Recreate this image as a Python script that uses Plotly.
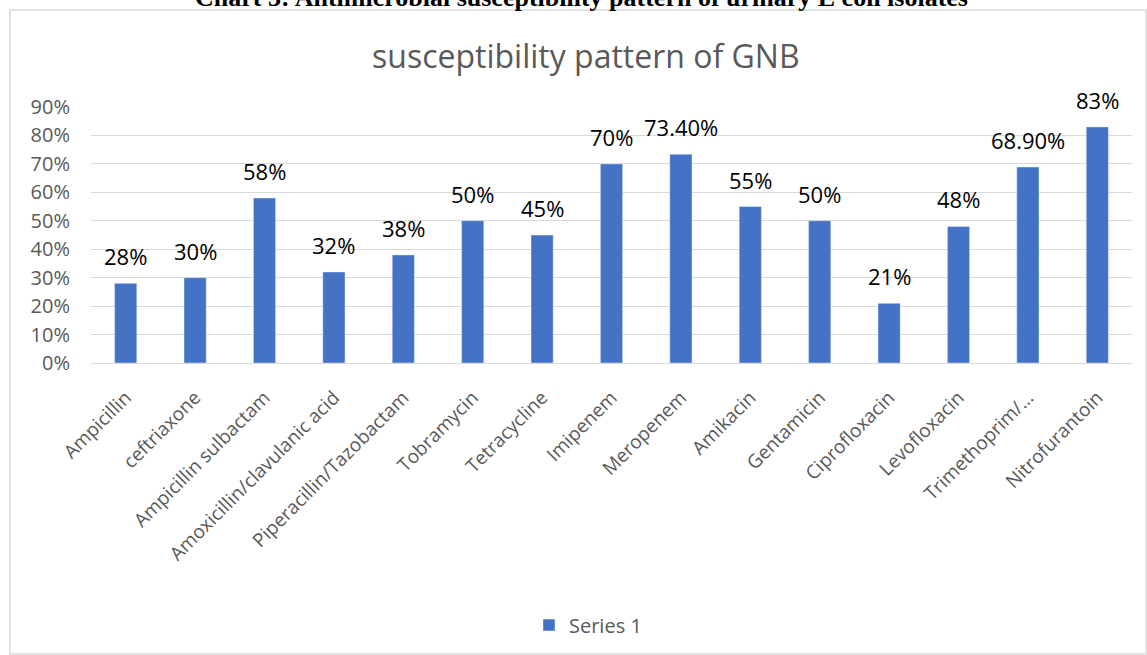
import plotly.graph_objects as go

categories = ["Ampicillin", "ceftriaxone", "Ampicillin sulbactam", "Amoxicillin/clavulanic acid",
              "Piperacillin/Tazobactam", "Tobramycin", "Tetracycline", "Imipenem", "Meropenem",
              "Amikacin", "Gentamicin", "Ciprofloxacin", "Levofloxacin", "Trimethoprim/…", "Nitrofurantoin"]
values = [0.28, 0.30, 0.58, 0.32, 0.38, 0.50, 0.45, 0.70, 0.734, 0.55, 0.50, 0.21, 0.48, 0.689, 0.83]
labels = ["28%", "30%", "58%", "32%", "38%", "50%", "45%", "70%", "73.40%", "55%", "50%", "21%", "48%", "68.90%", "83%"]
tick_vals = [0, 0.1, 0.2, 0.3, 0.4, 0.5, 0.6, 0.7, 0.8, 0.9]
tick_text = ["0%", "10%", "20%", "30%", "40%", "50%", "60%", "70%", "80%", "90%"]

W, H = 1147, 655
L, R, T, B = 91, 1132, 107, 363
pw, ph = R - L, B - T

def px(x):
    return (x - L) / pw

def py(y):
    return (B - y) / ph

fig = go.Figure()
fig.add_trace(go.Bar(
    x=categories, y=values, name="Series 1",
    marker=dict(color="#4472C4"),
    cliponaxis=False,
))

value_annotations = [
    dict(x=c, y=v, text=t, xref="x", yref="y", showarrow=False, xanchor="center",
         yanchor="bottom", yshift=10,
         font=dict(size=22, color="#000000", family="Open Sans"))
    for c, v, t in zip(categories, values, labels)
]

fig.update_layout(
    width=W, height=H,
    margin=dict(l=L, r=W - R, t=T, b=H - B, autoexpand=False),
    paper_bgcolor="white", plot_bgcolor="white",
    font=dict(family="Open Sans", color="#595959"),
    bargap=0.68,
    showlegend=True,
    legend=dict(orientation="h", x=px(588), xanchor="center", y=py(625), yanchor="middle",
                font=dict(size=20, color="#595959")),
    xaxis=dict(tickangle=-45, tickfont=dict(size=19, color="#595959"), showline=True,
               linecolor="#d9d9d9", ticks="", showgrid=False, ticklabelstandoff=15),
    yaxis=dict(range=[0, 0.9], tickvals=tick_vals, ticktext=tick_text,
               tickfont=dict(size=20, color="#595959"), showgrid=True,
               gridcolor="#d9d9d9", zeroline=False, ticks="", ticklabelstandoff=20),
    shapes=[dict(type="rect", xref="paper", yref="paper",
                 x0=px(10), x1=px(1146), y0=py(654), y1=py(10),
                 line=dict(color="#d9d9d9", width=1.5), layer="below")],
    annotations=value_annotations + [
        dict(text="susceptibility pattern of GNB", xref="paper", yref="paper",
             x=px(586), y=py(55), showarrow=False, xanchor="center", yanchor="middle",
             font=dict(size=32, color="#595959", family="Open Sans")),
        dict(text="<b>Chart 3: Antimicrobial susceptibility pattern of urinary E coli isolates</b>",
             xref="paper", yref="paper", x=px(581), y=py(14), showarrow=False,
             xanchor="center", yanchor="bottom",
             font=dict(size=26, color="#000000", family="Liberation Serif")),
    ],
)

fig.write_html("out.html")
